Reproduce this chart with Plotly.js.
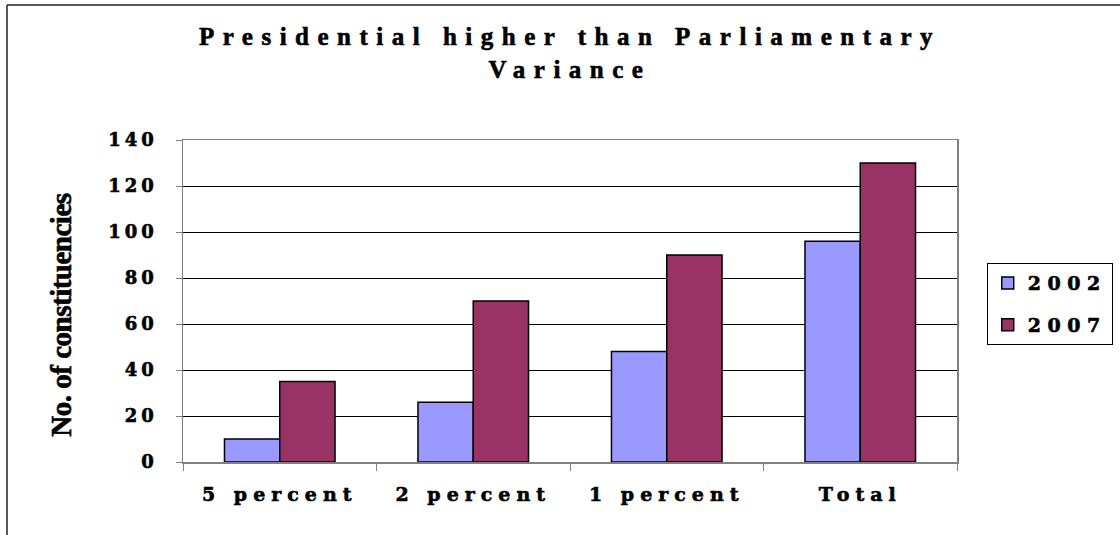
<!DOCTYPE html>
<html>
<head>
<meta charset="utf-8">
<script src="https://cdn.plot.ly/plotly-3.0.1.min.js"></script>
<style>
  html, body { margin: 0; padding: 0; background: #fff; }
  #chart { width: 1120px; height: 535px; }
  #chart text { font-weight: 700 !important; stroke: #000; stroke-width: 0.6px; }
  .gtitle { letter-spacing: 8.5px; }
  .xtick text { letter-spacing: 6px; }
  .ytick text { letter-spacing: 4px; }
  .legendtext { letter-spacing: 6.5px; }
  .annotation-text { letter-spacing: -0.5px; }
</style>
</head>
<body>
<div id="chart"></div>
<script>
const categories = ["5 percent", "2 percent", "1 percent", "Total"];
const values2002 = [10, 26, 48, 96];
const values2007 = [35, 70, 90, 130];
const seriesNames = ["2002", "2007"];
const yTicks = [0, 20, 40, 60, 80, 100, 120, 140];
const yTitle = "No. of constituencies";

const serif = "DejaVu Serif";
const titleFont = "Liberation Serif";

const traces = [
  {
    type: "bar", name: seriesNames[0], x: categories, y: values2002,
    legendgroup: "a",
    marker: { color: "#9999FF", line: { color: "#000000", width: 1.5 } }
  },
  {
    type: "bar", name: seriesNames[1], x: categories, y: values2007,
    legendgroup: "b",
    marker: { color: "#993366", line: { color: "#000000", width: 1.5 } }
  }
];

const layout = {
  width: 1120, height: 535,
  paper_bgcolor: "#ffffff", plot_bgcolor: "#ffffff",
  margin: { l: 183, r: 163, t: 140, b: 73 },
  barmode: "group",
  bargap: 0.4286,
  bargroupgap: 0,
  showlegend: true,
  title: {
    text: "Presidential higher than Parliamentary<br>Variance",
    font: { family: titleFont, size: 25, color: "#000", weight: 700 },
    x: 0.5, xref: "paper", xanchor: "center",
    y: 0.915, yref: "container", yanchor: "top"
  },
  xaxis: {
    type: "category",
    tickson: "boundaries",
    ticks: "outside", ticklen: 7, tickcolor: "#808080", tickwidth: 1,
    showline: true, linecolor: "#808080", linewidth: 1.5, mirror: true,
    showgrid: false,
    ticklabelstandoff: 15,
    tickfont: { family: serif, size: 19, color: "#000", weight: 700 }
  },
  yaxis: {
    range: [0, 140],
    tickvals: yTicks,
    ticks: "outside", ticklen: 6, tickcolor: "#808080", tickwidth: 1,
    showline: true, linecolor: "#808080", linewidth: 1.5, mirror: true,
    showgrid: true, gridcolor: "#000000", gridwidth: 1,
    zeroline: false,
    ticklabelstandoff: 14,
    tickfont: { family: serif, size: 18, color: "#000", weight: 700 }
  },
  annotations: [
    {
      text: yTitle, textangle: -90, showarrow: false,
      xref: "paper", yref: "paper",
      x: -0.157, y: 0.456, xanchor: "center", yanchor: "middle",
      font: { family: titleFont, size: 29, color: "#000", weight: 700 }
    }
  ],
  legend: {
    x: 0.881, xref: "container", xanchor: "left",
    y: 0.508, yref: "container", yanchor: "top",
    bordercolor: "#000000", borderwidth: 1,
    bgcolor: "#ffffff",
    tracegroupgap: 14,
    font: { family: serif, size: 19, color: "#000", weight: 700 }
  }
};

const config = { staticPlot: true, displayModeBar: false };
Plotly.newPlot("chart", traces, layout, config).then(function (gd) {
  // outer chart border (left and top edges only, as in the reference)
  const svg = gd.querySelector(".main-svg");
  const ns = "http://www.w3.org/2000/svg";
  const lines = [[7, 5, 7, 535], [7, 5, 1120, 5]];
  lines.forEach(function (c) {
    const l = document.createElementNS(ns, "line");
    l.setAttribute("x1", c[0]); l.setAttribute("y1", c[1]);
    l.setAttribute("x2", c[2]); l.setAttribute("y2", c[3]);
    l.setAttribute("stroke", "#222"); l.setAttribute("stroke-width", "1.5");
    svg.appendChild(l);
  });
});
</script>
</body>
</html>
